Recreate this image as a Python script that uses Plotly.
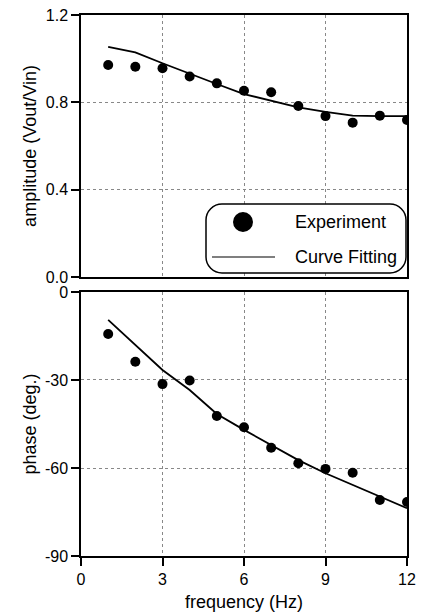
import plotly.graph_objects as go
from plotly.subplots import make_subplots

freq = [1, 2, 3, 4, 5, 6, 7, 8, 9, 10, 11, 12]
amp_exp = [0.971, 0.963, 0.956, 0.918, 0.887, 0.853, 0.846, 0.783, 0.737, 0.707, 0.739, 0.719]
amp_fit = [1.054, 1.029, 0.979, 0.930, 0.884, 0.838, 0.808, 0.777, 0.756, 0.739, 0.737, 0.737]
phase_exp = [-14.3, -23.8, -31.4, -30.2, -42.3, -46.1, -53.1, -58.4, -60.3, -61.6, -70.9, -71.6]
phase_fit = [-9.5, -18.1, -26.6, -33.4, -41.6, -47.0, -52.2, -57.3, -61.8, -65.8, -69.8, -73.7]
amp_ticks = [0, 0.4, 0.8, 1.2]
amp_ticktext = ["0.0", "0.4", "0.8", "1.2"]
phase_ticks = [-90, -60, -30, 0]
phase_ticktext = ["-90", "-60", "-30", "0"]
freq_ticks = [0, 3, 6, 9, 12]

FONT = "Liberation Sans, Arial, sans-serif"
fs_tick = 16
fs_title = 18
fs_leg = 18

fig = make_subplots(rows=2, cols=1, shared_xaxes=False, vertical_spacing=0.0)

fig.add_trace(go.Scatter(x=freq, y=amp_fit, mode="lines", line=dict(color="black", width=1.8),
                         showlegend=False), row=1, col=1)
fig.add_trace(go.Scatter(x=freq, y=amp_exp, mode="markers", marker=dict(color="black", size=10),
                         showlegend=False), row=1, col=1)
fig.add_trace(go.Scatter(x=freq, y=phase_fit, mode="lines", line=dict(color="black", width=1.8),
                         showlegend=False), row=2, col=1)
fig.add_trace(go.Scatter(x=freq, y=phase_exp, mode="markers", marker=dict(color="black", size=10),
                         showlegend=False), row=2, col=1)

axis_common = dict(showline=True, linecolor="black", linewidth=1.5, mirror=True,
                   showgrid=True, gridcolor="#888888", griddash="dot", gridwidth=1,
                   zeroline=False, ticks="outside", ticklen=8, tickcolor="black", tickwidth=1.5,
                   automargin=False,
                   tickfont=dict(family=FONT, size=fs_tick, color="black"))

fig.update_xaxes(range=[0, 12], tickvals=freq_ticks, **axis_common)
fig.update_xaxes(showticklabels=False, ticks="", row=1, col=1)
fig.update_xaxes(title=dict(text="frequency (Hz)", font=dict(family=FONT, size=fs_title, color="black"),
                            standoff=11), row=2, col=1)
fig.update_yaxes(**axis_common)
fig.update_yaxes(range=[0, 1.2], tickvals=amp_ticks, ticktext=amp_ticktext,
                 title=dict(text="amplitude (Vout/Vin)", font=dict(family=FONT, size=fs_title, color="black"),
                            standoff=4), row=1, col=1)
fig.update_yaxes(range=[-90, 0], tickvals=phase_ticks, ticktext=phase_ticktext,
                 title=dict(text="phase (deg.)", font=dict(family=FONT, size=fs_title, color="black"),
                            standoff=4), row=2, col=1)

fig.update_layout(
    width=424, height=612,
    margin=dict(l=81, r=17, t=15, b=56),
    paper_bgcolor="white", plot_bgcolor="white",
    font=dict(family=FONT, size=fs_tick, color="black"),
    showlegend=False,
)
fig.layout.yaxis.domain = [0.5157, 1.0]
fig.layout.yaxis2.domain = [0.0, 0.488]

# legend box (top panel, in pixel-derived domain fractions)
W, H = 326.0, 262.0
def fx(px):
    return (px - 81) / W
def fy(py):
    return (277 - py) / H

x0, x1, y0, y1 = fx(206), fx(406), fy(273), fy(204)
r = 16
rx, ry = r / W, r / H
k = 0.45
path = (f"M {x0+rx},{y0} L {x1-rx},{y0} C {x1-rx*k},{y0} {x1},{y0+ry*k} {x1},{y0+ry} "
        f"L {x1},{y1-ry} C {x1},{y1-ry*k} {x1-rx*k},{y1} {x1-rx},{y1} "
        f"L {x0+rx},{y1} C {x0+rx*k},{y1} {x0},{y1-ry*k} {x0},{y1-ry} "
        f"L {x0},{y0+ry} C {x0},{y0+ry*k} {x0+rx*k},{y0} {x0+rx},{y0} Z")
fig.add_shape(type="path", path=path, xref="x domain", yref="y domain",
              line=dict(color="black", width=1.5), fillcolor="white", layer="above")
fig.add_shape(type="circle", xref="x domain", yref="y domain",
              x0=fx(233), x1=fx(253), y0=fy(232), y1=fy(212),
              fillcolor="black", line=dict(color="black", width=0), layer="above")
fig.add_shape(type="line", xref="x domain", yref="y domain",
              x0=fx(212), x1=fx(275), y0=fy(257), y1=fy(257),
              line=dict(color="black", width=1.2), layer="above")
fig.add_annotation(text="Experiment", xref="x domain", yref="y domain", x=fx(293), y=fy(222),
                   xanchor="left", yanchor="middle", showarrow=False,
                   font=dict(family=FONT, size=fs_leg, color="black"))
fig.add_annotation(text="Curve Fitting", xref="x domain", yref="y domain", x=fx(293), y=fy(257),
                   xanchor="left", yanchor="middle", showarrow=False,
                   font=dict(family=FONT, size=fs_leg, color="black"))

fig.write_html("out.html")
